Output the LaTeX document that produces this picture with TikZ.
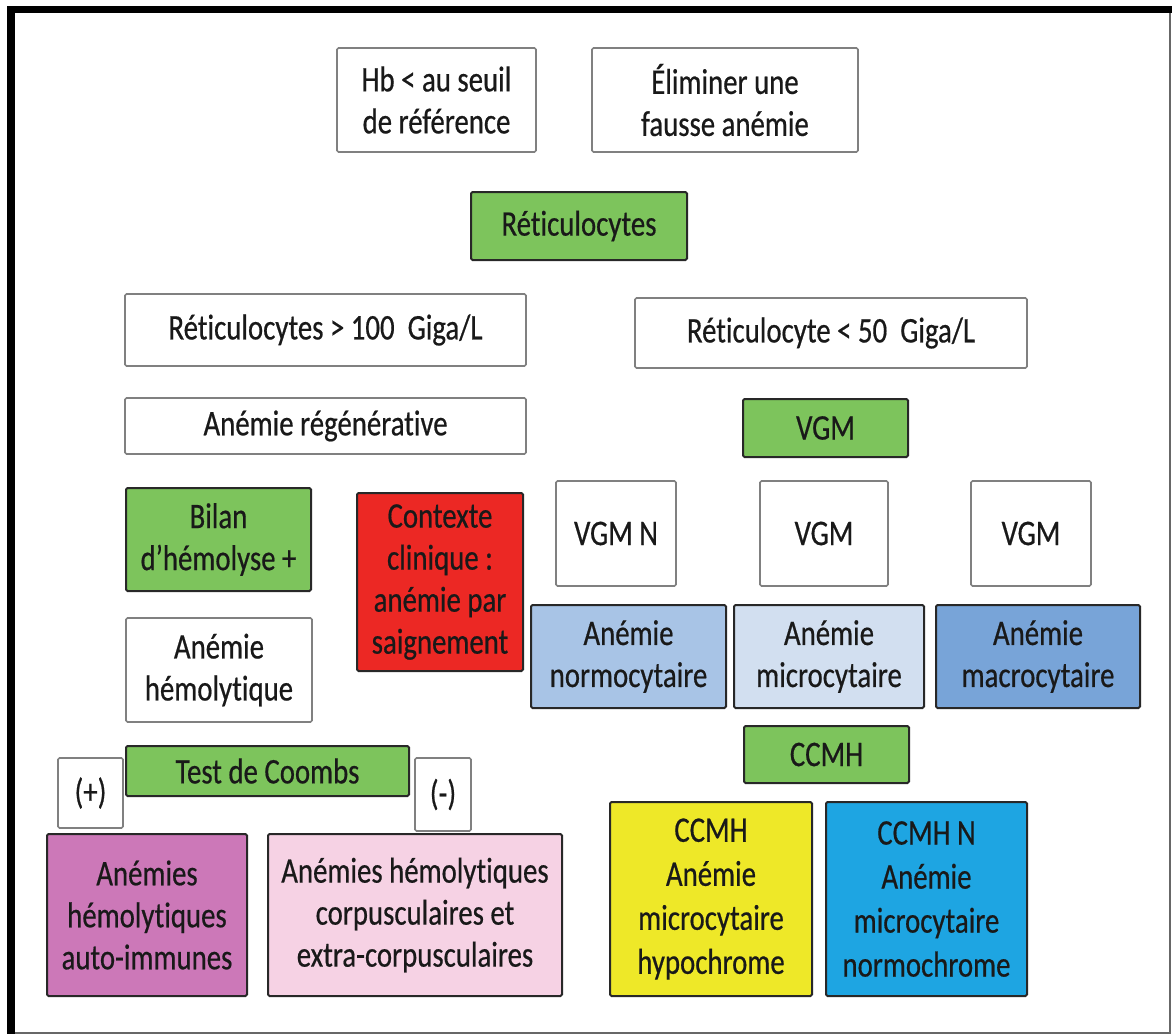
\documentclass[tikz,border=0pt]{standalone}
\usepackage{fontspec}
\setmainfont[FakeStretch=0.8,FakeBold=0.5,Ligatures=NoCommon]{Carlito}
\definecolor{greenF}{RGB}{125,196,92}
\definecolor{redF}{RGB}{236,40,36}
\definecolor{normoF}{RGB}{168,196,230}
\definecolor{microF}{RGB}{210,223,240}
\definecolor{macroF}{RGB}{120,164,216}
\definecolor{yellowF}{RGB}{238,232,40}
\definecolor{cyanF}{RGB}{30,165,226}
\definecolor{magF}{RGB}{204,120,184}
\definecolor{pinkF}{RGB}{246,210,228}
\definecolor{borderD}{RGB}{40,40,40}
\definecolor{borderG}{RGB}{128,128,128}
\definecolor{txt}{RGB}{25,25,25}
\begin{document}
\begin{tikzpicture}[x=1pt,y=-1pt,
  box/.style={rectangle, rounded corners=1.5pt, inner sep=0pt, align=center, text=txt,
    font=\fontsize{36}{42}\selectfont},
  wbox/.style={box, draw=borderG, fill=white, line width=1.6pt},
  cbox/.style={box, draw=borderD, line width=2pt},
  tall/.style={font=\fontsize{36}{44}\selectfont}]
\useasboundingbox (0,0) rectangle (1174,1034);
\fill[white] (0,0) rectangle (1174,1034);
% frame
\fill[black] (7,6) rectangle (15,1034);
\fill[black] (7,6) rectangle (1172,13);
\draw[borderG!80!black, line width=1.5pt] (1170,13) -- (1170,1033) -- (15,1033);
% top
\node[wbox, minimum width=199pt, minimum height=104pt] (hb) at (436.5,100) {Hb < au seuil\\de référence};
\node[wbox, minimum width=266pt, minimum height=104pt] (elim) at (725,100) {Éliminer une\\fausse anémie};
\node[cbox, fill=greenF, minimum width=216pt, minimum height=68pt] (reti) at (579,226) {Réticulocytes};
% reticulocytes
\node[wbox, minimum width=401pt, minimum height=72pt] (sup) at (325.5,330) {Réticulocytes > 100~ Giga/L};
\node[wbox, minimum width=392pt, minimum height=70pt] (inf) at (831,333) {Réticulocyte < 50~ Giga/L};
\node[wbox, minimum width=401pt, minimum height=56pt] (regen) at (325.5,426) {Anémie régénérative};
\node[cbox, fill=greenF, minimum width=165pt, minimum height=58pt] (vgm) at (825.5,428) {VGM};
% left branch
\node[cbox, fill=greenF, minimum width=185pt, minimum height=103pt] (bilan) at (218.5,539.5) {Bilan\\d’hémolyse +};
\node[cbox, fill=redF, minimum width=166pt, minimum height=178pt] (ctx) at (440,582) {Contexte\\clinique :\\anémie par\\saignement};
\node[wbox, minimum width=186pt, minimum height=104pt] (hemol) at (219,670) {Anémie\\hémolytique};
\node[cbox, fill=greenF, minimum width=283pt, minimum height=50pt] (coombs) at (267.5,771) {Test de Coombs};
\node[wbox, minimum width=65pt, minimum height=70pt] (plus) at (90.5,793) {(+)};
\node[wbox, minimum width=56pt, minimum height=73pt] (minus) at (443,794.5) {(-)};
\node[cbox, fill=magF, minimum width=200pt, minimum height=162pt] (auto) at (147,915) {Anémies\\hémolytiques\\auto-immunes};
\node[cbox, fill=pinkF, minimum width=294pt, minimum height=162pt] (corp) at (415,915) {Anémies hémolytiques\\corpusculaires et\\extra-corpusculaires};
% right branch
\node[wbox, minimum width=120pt, minimum height=105pt] (vgmn) at (616,533.5) {VGM N};
\node[wbox, minimum width=128pt, minimum height=105pt] (vgmb) at (824,533.5) {VGM};
\node[wbox, minimum width=120pt, minimum height=105pt] (vgmc) at (1031,533.5) {VGM};
\node[cbox, fill=normoF, minimum width=195pt, minimum height=103pt] (normo) at (628.5,656.5) {Anémie\\normocytaire};
\node[cbox, fill=microF, minimum width=190pt, minimum height=103pt] (micro) at (829,656.5) {Anémie\\microcytaire};
\node[cbox, fill=macroF, minimum width=204pt, minimum height=103pt] (macro) at (1038,656.5) {Anémie\\macrocytaire};
\node[cbox, fill=greenF, minimum width=165pt, minimum height=57pt] (ccmh) at (826.5,754.5) {CCMH};
\node[cbox, tall, fill=yellowF, minimum width=202pt, minimum height=194pt] (hypo) at (711,899) {CCMH\\Anémie\\microcytaire\\hypochrome};
\node[cbox, tall, fill=cyanF, minimum width=201pt, minimum height=194pt] (normoch) at (926.5,899) {CCMH N\\Anémie\\microcytaire\\normochrome};
\end{tikzpicture}
\end{document}
